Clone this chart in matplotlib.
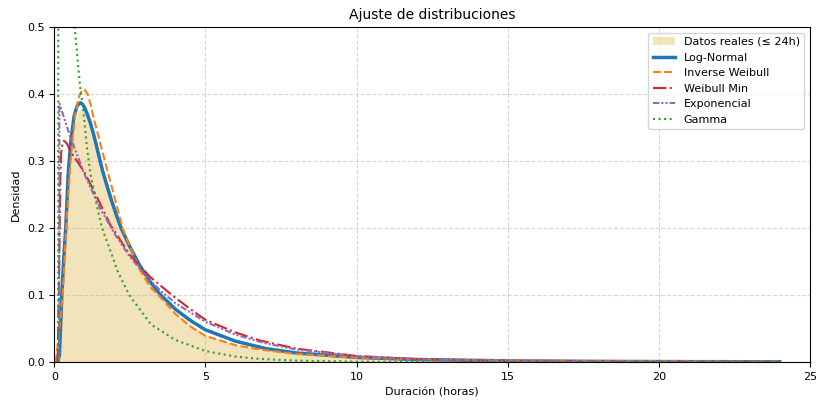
import numpy as np
import matplotlib
matplotlib.use("Agg")
import matplotlib.pyplot as plt

# valores (x en horas, y en densidad)
kde_x = [0.08, 0.15, 0.25, 0.38, 0.5, 0.65, 0.8, 0.9, 1.0, 1.2, 1.5, 2.0, 2.5, 3.0, 3.5,
         4.0, 5.0, 6.0, 7.0, 8.0, 10.0, 12.0, 15.0, 18.0, 21.0, 24.0]
kde_y = [0.0, 0.03, 0.1, 0.2, 0.29, 0.35, 0.375, 0.378, 0.373, 0.35, 0.305, 0.235, 0.17,
         0.125, 0.098, 0.073, 0.04, 0.026, 0.018, 0.012, 0.0065, 0.004, 0.002, 0.0012,
         0.0008, 0.0005]

lognorm_x = [0.1, 0.17, 0.25, 0.31, 0.38, 0.46, 0.55, 0.65, 0.75, 0.86, 0.93, 1.0, 1.1,
             1.2, 1.3, 1.4, 1.5, 1.6, 1.75, 1.9, 2.05, 2.21, 2.5, 2.84, 3.17, 3.5, 4.0,
             4.5, 5.0, 6.0, 7.0, 8.0, 10.0, 12.0, 15.0, 18.0, 21.0, 24.0]
lognorm_y = [0.0, 0.01, 0.1, 0.152, 0.2, 0.28, 0.33, 0.365, 0.382, 0.387, 0.385, 0.38,
             0.369, 0.356, 0.34, 0.322, 0.303, 0.285, 0.262, 0.24, 0.22, 0.2, 0.172,
             0.143, 0.12, 0.101, 0.079, 0.062, 0.048, 0.031, 0.02, 0.0135, 0.0068,
             0.0037, 0.0017, 0.0009, 0.0005, 0.0003]

invweib_x = [0.05, 0.15, 0.28, 0.34, 0.42, 0.52, 0.6, 0.7, 0.78, 0.85, 0.92, 0.97, 1.03,
             1.1, 1.2, 1.3, 1.5, 1.75, 2.0, 2.26, 2.5, 2.84, 3.17, 3.44, 4.0, 4.5, 5.0,
             6.0, 6.81, 8.0, 10.0, 12.0, 15.0, 18.0, 21.0, 24.0]
invweib_y = [0.0, 0.04, 0.1, 0.152, 0.22, 0.287, 0.33, 0.37, 0.39, 0.4, 0.405, 0.407,
             0.405, 0.4, 0.385, 0.365, 0.33, 0.287, 0.245, 0.2, 0.172, 0.137, 0.112, 0.1,
             0.072, 0.053, 0.039, 0.025, 0.0185, 0.012, 0.0065, 0.0039, 0.0021, 0.0013,
             0.0009, 0.0006]

weibmin_x = [0.11, 0.15, 0.18, 0.2, 0.23, 0.27, 0.31, 0.36, 0.42, 0.53, 0.75, 1.0, 1.5,
             1.85, 2.5, 3.17, 3.89, 4.5, 5.0, 6.0, 6.81, 8.0, 10.0, 12.0, 15.0, 18.0,
             21.0, 24.0]
weibmin_y = [0.0, 0.1, 0.2, 0.27, 0.312, 0.326, 0.33, 0.329, 0.326, 0.315, 0.3, 0.283,
             0.238, 0.205, 0.16, 0.127, 0.1, 0.079, 0.063, 0.044, 0.032, 0.02, 0.009,
             0.0042, 0.0013, 0.0004, 0.00012, 0.00004]

expon_x = [0.16, 0.17, 0.5, 1.0, 1.5, 2.0, 2.5, 3.0, 3.5, 4.0, 5.0, 6.0, 7.0, 8.0, 10.0,
           12.0, 15.0, 18.0, 21.0, 24.0]
expon_y = [0.0, 0.386, 0.34, 0.28, 0.231, 0.191, 0.157, 0.13, 0.107, 0.088, 0.06, 0.0407,
           0.0277, 0.0188, 0.0087, 0.004, 0.00126, 0.0004, 0.000124, 0.00004]

gamma_x = [0.13, 0.14, 0.3, 0.5, 0.675, 0.85, 0.97, 1.08, 1.2, 1.4, 1.58, 1.97, 2.08,
           2.48, 3.2, 4.0, 5.0, 6.0, 6.81, 8.0, 10.0, 12.0, 15.0, 18.0, 21.0, 24.0]
gamma_y = [0.0, 3.0, 1.4, 0.75, 0.5, 0.413, 0.372, 0.321, 0.28, 0.235, 0.2, 0.152, 0.137,
           0.1, 0.056, 0.033, 0.0164, 0.008, 0.0045, 0.002, 0.0005, 0.0001, 0.00001,
           0.0, 0.0, 0.0]

fig, ax = plt.subplots(figsize=(8.16, 4.01), dpi=100)
fig.subplots_adjust(left=0.0665, right=0.9926, bottom=0.0973, top=0.9327)

ax.fill_between(kde_x, kde_y, color="goldenrod", alpha=0.3, linewidth=0,
                label="Datos reales (≤ 24h)")
ax.plot(lognorm_x, lognorm_y, color="tab:blue", lw=2.5, label="Log-Normal")
ax.plot(invweib_x, invweib_y, color="tab:orange", lw=1.5, ls="--", label="Inverse Weibull")
ax.plot(weibmin_x, weibmin_y, color="tab:red", lw=1.5, ls="-.", label="Weibull Min")
ax.plot(expon_x, expon_y, color="tab:purple", lw=1.5, ls=(0, (3, 1, 1, 1, 1, 1)),
        label="Exponencial")
ax.plot(gamma_x, gamma_y, color="tab:green", lw=1.5, ls=":", label="Gamma")

ax.set_xlim(0, 25)
ax.set_ylim(0, 0.5)
ax.set_title("Ajuste de distribuciones", fontsize=10)
ax.set_xlabel("Duración (horas)", fontsize=8)
ax.set_ylabel("Densidad", fontsize=8)
ax.tick_params(labelsize=8)
ax.grid(True, ls="--", alpha=0.5)
ax.legend(loc="upper right", fontsize=8)

fig.savefig("out.png", dpi=100)
